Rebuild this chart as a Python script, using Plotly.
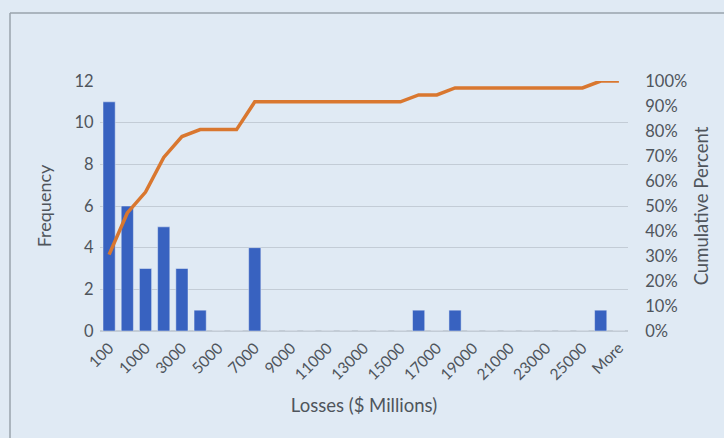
import plotly.graph_objects as go

categories = ["100", "500"] + [str(v) for v in range(1000, 26001, 1000)] + ["More"]
frequency = [11, 6, 3, 5, 3, 1, 0, 0, 4, 0, 0, 0, 0, 0, 0, 0, 0, 1, 0, 1, 0, 0, 0, 0, 0, 0, 0, 1, 0]
cumulative = [0.3056, 0.4722, 0.5556, 0.6944, 0.7778, 0.8056, 0.8056, 0.8056, 0.9167,
              0.9167, 0.9167, 0.9167, 0.9167, 0.9167, 0.9167, 0.9167, 0.9167, 0.9444,
              0.9444, 0.9722, 0.9722, 0.9722, 0.9722, 0.9722, 0.9722, 0.9722, 0.9722,
              1.0, 1.0]
tick_labels = categories[::2]

FONT = "Lato, Open Sans, sans-serif"
TXT = "#4f555c"
BG = "#e0eaf4"
GRID = "#c3ccd6"

fig = go.Figure()
fig.add_trace(go.Bar(x=categories, y=frequency, marker_color="#3862c0", name="Frequency"))
fig.add_trace(go.Scatter(x=categories, y=cumulative, mode="lines", yaxis="y2",
                         line=dict(color="#d9772f", width=3.5), name="Cumulative %"))

fig.update_layout(
    width=724, height=438,
    margin=dict(l=100, r=96, t=81, b=107),
    paper_bgcolor=BG, plot_bgcolor=BG,
    showlegend=False, bargap=0.33,
    font=dict(family=FONT, color=TXT, size=13),
    xaxis=dict(type="category", range=[-0.5, 28.5], tickmode="array",
               tickvals=tick_labels, ticktext=tick_labels, tickangle=-45,
               showgrid=False, showline=False, ticks="outside", ticklen=1,
               tickcolor="rgba(0,0,0,0)",
               tickfont=dict(size=15.5, color=TXT),
               title=dict(text="Losses ($ Millions)", font=dict(size=18.5, color=TXT), standoff=16)),
    yaxis=dict(range=[0, 12], dtick=2, gridcolor=GRID, gridwidth=1, zeroline=True,
               zerolinecolor=GRID, zerolinewidth=1.5, ticks="outside", ticklen=2,
               tickcolor="rgba(0,0,0,0)", tickfont=dict(size=16.5, color=TXT),
               title=dict(text="Frequency", font=dict(size=18, color=TXT), standoff=18)),
    yaxis2=dict(range=[0, 1], dtick=0.1, tickformat=".0%", overlaying="y", side="right",
                showgrid=False, zeroline=False, ticks="outside", ticklen=13,
                tickcolor="rgba(0,0,0,0)", tickfont=dict(size=16.5, color=TXT),
                title=dict(text="Cumulative Percent", font=dict(size=18.5, color=TXT), standoff=8)),
    shapes=[
        dict(type="line", xref="paper", yref="paper", x0=(10 - 100) / 528, x1=(724 - 100) / 528 + 0.01,
             y0=(331 - 13) / 250, y1=(331 - 13) / 250, line=dict(color="#9aa3ad", width=1.5)),
        dict(type="line", xref="paper", yref="paper", x0=(10 - 100) / 528, x1=(10 - 100) / 528,
             y0=(331 - 13) / 250, y1=(331 - 440) / 250, line=dict(color="#9aa3ad", width=1.5)),
    ],
)

fig.write_html("out.html")
